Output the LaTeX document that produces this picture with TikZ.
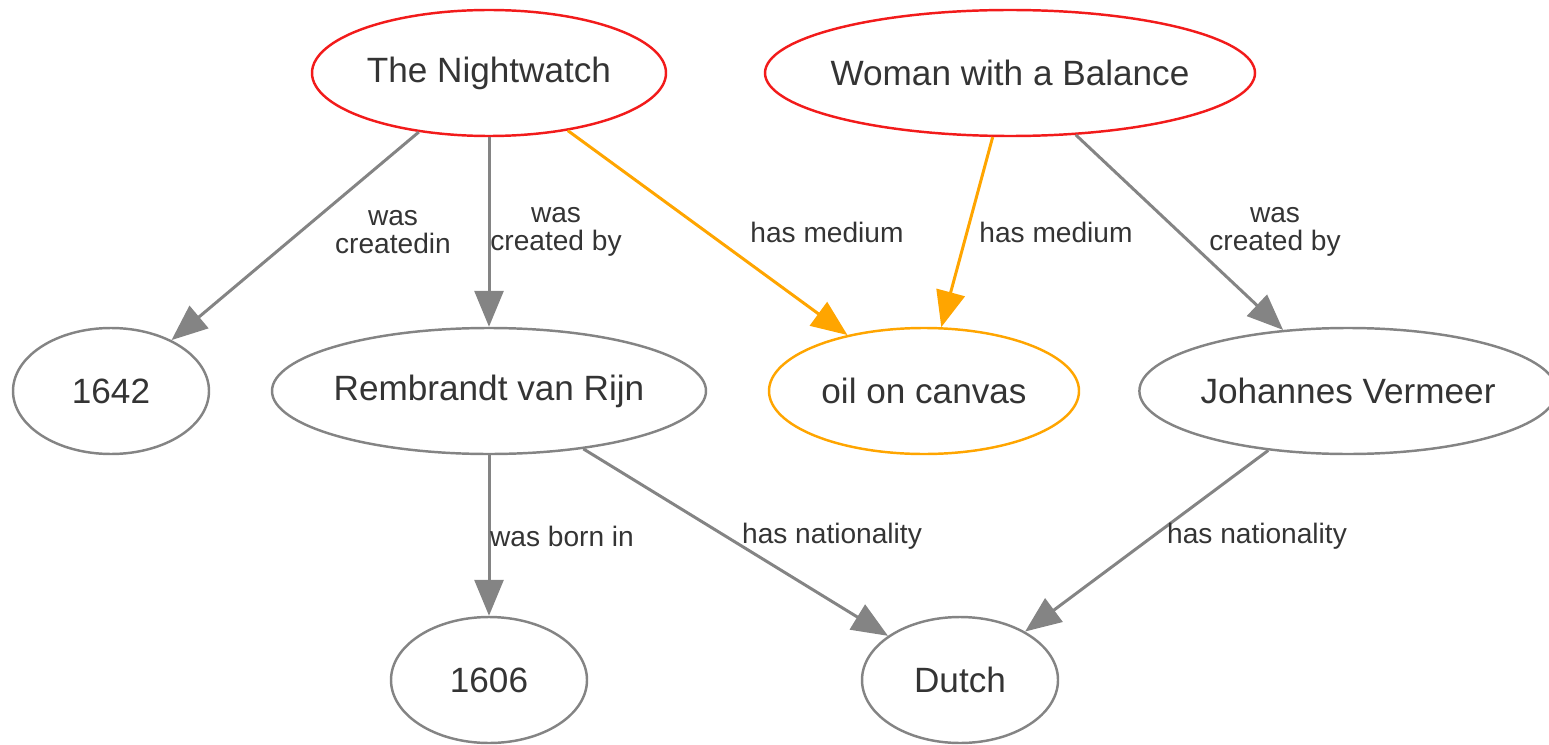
\documentclass[tikz,border=0pt]{standalone}
\usepackage{fontspec}
\setmainfont{Liberation Sans}
\usetikzlibrary{shapes.geometric,arrows.meta}
\definecolor{txt}{HTML}{343434}
\definecolor{edgegray}{HTML}{848484}
\definecolor{orng}{HTML}{FFA500}
\definecolor{rd}{HTML}{F21B1B}

\begin{document}
\begin{tikzpicture}[
    thing/.style={ellipse, draw=edgegray, line width=1.4pt, inner sep=0pt,
      minimum height=2.52cm, text=txt, font=\fontsize{20}{24}\selectfont},
    work/.style={thing, draw=rd},
    medium/.style={thing, draw=orng},
    arr/.style={draw=edgegray, line width=1.7pt,
      -{Triangle[length=0.72cm,width=0.58cm]}},
    arrmed/.style={arr, draw=orng},
    lbl/.style={text=txt, align=center,
      font=\fontsize{16}{16}\selectfont}]
      \useasboundingbox (0,0) rectangle (30.98,-14.9);
      % paintings
      \node[work, minimum width=7.08cm] (nw) at (9.78,-1.46) {The Nightwatch};
      \node[work, minimum width=9.8cm, inner xsep=-0.13cm] (wb) at (20.2,-1.46) {Woman with a Balance};
      % second row
      \node[thing, minimum width=3.92cm] (y1642) at (2.22,-7.82) {1642};
      \node[thing, minimum width=8.68cm, inner xsep=-0.05cm] (rvr) at (9.78,-7.82) {Rembrandt van Rijn};
      \node[medium, minimum width=6.2cm] (oil) at (18.48,-7.82) {oil on canvas};
      \node[thing, minimum width=8.12cm] (jv) at (26.96,-7.82) {Johannes Vermeer};
      % third row
      \node[thing, minimum width=3.92cm] (y1606) at (9.78,-13.6) {1606};
      \node[thing, minimum width=3.92cm] (dutch) at (19.2,-13.6) {Dutch};
      % relations
      \draw[arr] (nw) -- (y1642) node[lbl] at (7.86,-4.64) {was\\createdin};
      \draw[arr] (nw) -- (rvr) node[lbl] at (11.12,-4.64) {was\\created by};
      \draw[arrmed] (nw) -- (oil) node[lbl] at (16.54,-4.64) {has medium};
      \draw[arrmed] (wb) -- (oil) node[lbl] at (21.12,-4.64) {has medium};
      \draw[arr] (wb) -- (jv) node[lbl] at (25.5,-4.64) {was\\created by};
      \draw[arr] (rvr) -- (y1606) node[lbl] at (11.24,-10.72) {was born in};
      \draw[arr] (rvr) -- (dutch) node[lbl] at (16.64,-10.72) {has nationality};
      \draw[arr] (jv) -- (dutch) node[lbl] at (25.14,-10.72) {has nationality};
\end{tikzpicture}
\end{document}
